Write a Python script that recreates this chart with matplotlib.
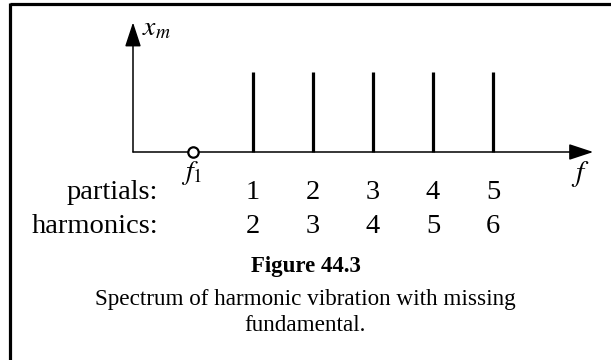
import matplotlib.pyplot as plt
from matplotlib.lines import Line2D

plt.rcParams['font.family'] = ['Liberation Serif', 'DejaVu Serif']
plt.rcParams['mathtext.fontset'] = 'stix'

# spectrum: partials sit on harmonics 2..6 of the missing fundamental f1
harmonics = [2, 3, 4, 5, 6]
partials = [1, 2, 3, 4, 5]
amplitudes = [1, 1, 1, 1, 1]
fundamental = 1

title = 'Figure 44.3'
caption = ['Spectrum of harmonic vibration with missing', 'fundamental.']


def main():
    fig = plt.figure(figsize=(6.11, 3.6), dpi=100)
    ax = fig.add_axes([0, 0, 1, 1])
    # one x unit = one multiple of f1 (60 px), one y unit = line height (80 px)
    ax.set_xlim(-133 / 60, 478 / 60)
    ax.set_ylim(-208 / 80, 152 / 80)
    ax.axis('off')

    # frame (top and left edges)
    fig.add_artist(Line2D([0.016, 1.0], [0.989, 0.989], color='black', lw=2.3,
                          transform=fig.transFigure, solid_capstyle='butt'))
    fig.add_artist(Line2D([0.0165, 0.0165], [0.0, 0.992], color='black', lw=2.3,
                          transform=fig.transFigure, solid_capstyle='butt'))

    # axes with arrowheads
    arrow = dict(arrowstyle='-|>,head_length=1.0,head_width=0.33', color='black',
                 lw=1.1, mutation_scale=15, shrinkA=0, shrinkB=0)
    ax.annotate('', xy=(7.67, 0), xytext=(0, 0), arrowprops=arrow)
    ax.annotate('', xy=(0, 1.62), xytext=(0, 0), arrowprops=arrow)
    ax.text(0.15, 1.46, '$x_m$', fontsize=20, ha='left', va='baseline')
    ax.text(7.3, -0.36, '$f$', fontsize=21, ha='left', va='baseline')

    # spectral lines and the missing fundamental
    ax.vlines(harmonics, 0, amplitudes, color='black', lw=2.3)
    ax.plot([fundamental], [0], marker='o', ms=7.5, mfc='white', mec='black',
            mew=1.6, zorder=5)
    ax.text(fundamental - 0.02, -0.34, '$f_1$', fontsize=20, ha='center',
            va='baseline')

    # row labels under the axis
    ax.text(0.42, -0.59, 'partials:', fontsize=20.5, ha='right', va='baseline')
    ax.text(0.42, -1.01, 'harmonics:', fontsize=20.5, ha='right', va='baseline')
    for h, p in zip(harmonics, partials):
        ax.text(h, -0.59, str(p), fontsize=20.5, ha='center', va='baseline')
        ax.text(h, -1.01, str(h), fontsize=20.5, ha='center', va='baseline')

    fig.text(0.5, 1 - 272 / 360, title, fontsize=16.5, fontweight='bold',
             ha='center', va='baseline')
    fig.text(0.5, 1 - 305 / 360, caption[0], fontsize=16.7, ha='center',
             va='baseline')
    fig.text(0.5, 1 - 331 / 360, caption[1], fontsize=16.7, ha='center',
             va='baseline')

    fig.savefig('out.png', dpi=100)


main()
